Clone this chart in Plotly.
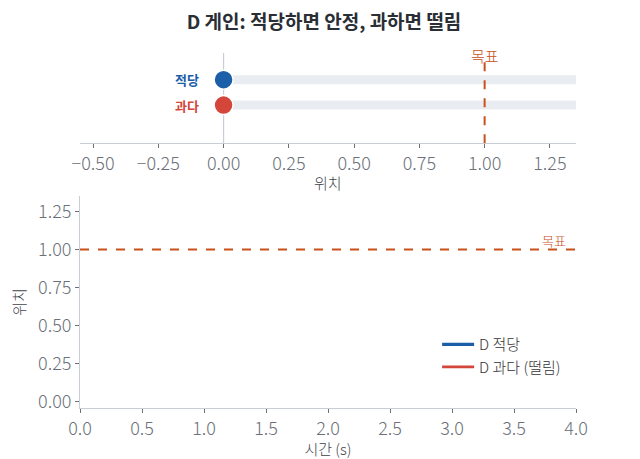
import plotly.graph_objects as go
from plotly.subplots import make_subplots

# data: simulation at its first frame (t = 0)
time_s = [0.0]
pos_ok = [0.0]
pos_over = [0.0]
target = 1.0

rows = ["적당", "과다"]
row_y = [1, 0]
row_colors = ["#1c5ea8", "#d4453a"]
current_pos = [pos_ok[-1], pos_over[-1]]
series_names = ["D 적당", "D 과다 (떨림)"]

x_top_range = [-0.55, 1.35]
t_range = [0, 4]

FONT = "Noto Sans CJK KR"
AXIS_COL = "#c9cdd6"
TICK_COL = "#6b7079"
TITLE_COL = "#3f434a"
TARGET_COL = "#c9501c"

fig = make_subplots(rows=2, cols=1)
fig.update_layout(
    xaxis=dict(domain=[0, 1], anchor="y"),
    yaxis=dict(domain=[0.746, 1.0], anchor="x"),
    xaxis2=dict(domain=[0, 1], anchor="y2"),
    yaxis2=dict(domain=[0.0, 0.597], anchor="x2"),
)

# top: track bars + position markers
for y in row_y:
    fig.add_trace(go.Scatter(x=[0, x_top_range[1]], y=[y, y], mode="lines",
                             line=dict(color="#e9edf1", width=9),
                             showlegend=False, hoverinfo="skip"), row=1, col=1)
for name, y, col, p in zip(rows, row_y, row_colors, current_pos):
    fig.add_trace(go.Scatter(x=[p], y=[y], mode="markers",
                             marker=dict(color=col, size=19,
                                         line=dict(color="white", width=1.5)),
                             showlegend=False, name=name), row=1, col=1)
    fig.add_annotation(x=-0.085, y=y, xref="x", yref="y", text="<b>" + name + "</b>",
                       showarrow=False, xanchor="right",
                       font=dict(family=FONT, size=13, color=col))

fig.add_shape(type="line", x0=0, x1=0, y0=-1.5, y1=2.05, xref="x", yref="y",
              line=dict(color=AXIS_COL, width=1.2), layer="below")
fig.add_shape(type="line", x0=target, x1=target, y0=-1.5, y1=1.75, xref="x", yref="y",
              line=dict(color=TARGET_COL, width=2, dash="dash"))
fig.add_annotation(x=target, y=1.75, xref="x", yref="y", text="목표",
                   showarrow=False, yanchor="bottom", yshift=-7,
                   font=dict(family=FONT, size=15, color=TARGET_COL, weight=300))

# bottom: time response
fig.add_trace(go.Scatter(x=time_s, y=pos_ok, mode="lines", name=series_names[0],
                         line=dict(color=row_colors[0], width=3.2)), row=2, col=1)
fig.add_trace(go.Scatter(x=time_s, y=pos_over, mode="lines", name=series_names[1],
                         line=dict(color=row_colors[1], width=2.6)), row=2, col=1)
fig.add_shape(type="line", x0=t_range[0], x1=t_range[1], y0=target, y1=target,
              xref="x2", yref="y2", line=dict(color=TARGET_COL, width=2, dash="dash"))
fig.add_annotation(x=3.82, y=target, xref="x2", yref="y2", text="목표",
                   showarrow=False, yanchor="bottom", yshift=-3,
                   font=dict(family=FONT, size=13, color=TARGET_COL, weight=300))

axis_common = dict(showline=True, linecolor=AXIS_COL, linewidth=1, showgrid=False,
                   zeroline=False, ticks="outside", tickcolor=TICK_COL, ticklen=4,
                   automargin=False,
                   tickfont=dict(family=FONT, size=18, color=TICK_COL, weight=300))
title_font = dict(family=FONT, size=15, color=TITLE_COL, weight=300)

fig.update_xaxes(**axis_common)
fig.update_yaxes(**axis_common)
fig.update_xaxes(range=x_top_range, tickvals=[-0.5, -0.25, 0, 0.25, 0.5, 0.75, 1.0, 1.25],
                 tickformat=".2f", row=1, col=1)
fig.update_yaxes(range=[-1.5, 2.05], showline=False, ticks="", showticklabels=False,
                 row=1, col=1)
fig.update_xaxes(range=t_range, dtick=0.5, tickformat=".1f",
                 title=dict(text="시간 (s)", standoff=0, font=title_font),
                 row=2, col=1)
fig.update_yaxes(range=[-0.04, 1.35], tickvals=[0, 0.25, 0.5, 0.75, 1.0, 1.25],
                 tickformat=".2f", title=dict(text="위치", standoff=10, font=title_font),
                 row=2, col=1)

# top x-axis title placed by hand (sits closer to the ticks than plotly allows)
fig.add_annotation(x=0.5, y=0.746, xref="paper", yref="paper", text="위치",
                   showarrow=False, yanchor="top", yshift=-27, font=title_font)

# the page adds an 8px body margin, so the figure is 8px smaller than the window
fig.update_layout(
    width=632, height=451,
    margin=dict(l=72, r=64, t=45, b=51),
    paper_bgcolor="white", plot_bgcolor="white",
    title=dict(text="<b>D 게인: 적당하면 안정, 과하면 떨림</b>", x=0.5, xanchor="center",
               y=0.968, yanchor="middle",
               font=dict(family=FONT, size=19, color="#2a2e35")),
    legend=dict(x=0.72, y=0.07, xanchor="left", yanchor="bottom", bgcolor="rgba(0,0,0,0)",
                tracegroupgap=0, itemwidth=32,
                font=dict(family=FONT, size=15, color="#333", weight=300)),
    font=dict(family=FONT),
)

fig.write_html("out.html")
